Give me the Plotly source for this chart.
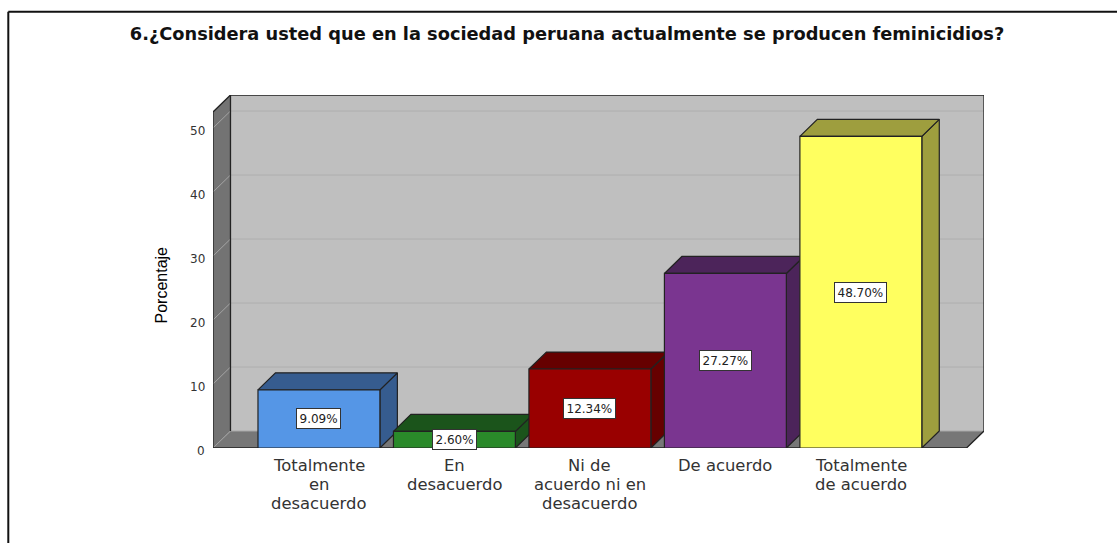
import plotly.graph_objects as go

W, H = 1117, 543
title = "6.¿Considera usted que en la sociedad peruana actualmente se producen feminicidios?"
y_title = "Porcentaje"
categories = [["Totalmente", "en", "desacuerdo"], ["En", "desacuerdo"],
              ["Ni de", "acuerdo ni en", "desacuerdo"], ["De acuerdo"], ["Totalmente", "de acuerdo"]]
values = [9.09, 2.60, 12.34, 27.27, 48.70]
labels = ["9.09%", "2.60%", "12.34%", "27.27%", "48.70%"]
y_ticks = [0, 10, 20, 30, 40, 50]
front = ["#5596E6", "#2A8A2A", "#990000", "#7A3590", "#FFFF5F"]
dark = ["#365C8F", "#1B541B", "#660000", "#4C245A", "#9E9E3E"]

BAR_W = 0.9
DX, DY = 0.129, 2.656
X0, X1 = -0.782, 4.78
Y_TOP = 52.5
LINE = "#222222"

fig = go.Figure()


def poly(xs, ys, fill, lw=1.2, lc=LINE):
    fig.add_trace(go.Scatter(x=xs + xs[:1], y=ys + ys[:1], mode="lines", fill="toself",
                             fillcolor=fill, line=dict(color=lc, width=lw),
                             hoverinfo="skip", showlegend=False, cliponaxis=False))


def path(xs, ys, color, lw=1.0):
    fig.add_trace(go.Scatter(x=xs, y=ys, mode="lines", line=dict(color=color, width=lw),
                             hoverinfo="skip", showlegend=False, cliponaxis=False))


# walls
poly([X0 + DX, X1 + DX, X1 + DX, X0 + DX], [DY, DY, Y_TOP + DY, Y_TOP + DY], "#BFBFBF", 0)
poly([X0, X0 + DX, X0 + DX, X0], [0, DY, Y_TOP + DY, Y_TOP], "#737373", 0)
poly([X0, X1, X1 + DX, X0 + DX], [0, 0, DY, DY], "#777777", 0)

# gridlines
for v in y_ticks[1:]:
    path([X0, X0 + DX], [v, v + DY], "#A4A4A4")
    path([X0 + DX, X1 + DX], [v + DY, v + DY], "#AEAEAE")

# wall edges
path([X0 + DX, X1 + DX], [DY, DY], "#A8A8A8")
path([X0, X0 + DX], [0, DY], "#A0A0A0")
path([X0, X0, X0 + DX, X1 + DX, X1 + DX, X1, X0],
     [0, Y_TOP, Y_TOP + DY, Y_TOP + DY, DY, 0, 0], LINE, 1.3)
path([X0 + DX, X0 + DX], [DY, Y_TOP + DY], LINE, 1.3)

# bars
for i, v in enumerate(values):
    l, r = i - BAR_W / 2, i + BAR_W / 2
    poly([r, r + DX, r + DX, r], [0, DY, v + DY, v], dark[i])
    poly([l, r, r + DX, l + DX], [v, v, v + DY, v + DY], dark[i])
    poly([l, r, r, l], [0, 0, v, v], front[i])

# bar value labels
for i, v in enumerate(values):
    fig.add_annotation(x=i, y=v / 2, text=labels[i], showarrow=False, bgcolor="white",
                       bordercolor="#333333", borderwidth=1, borderpad=2.5,
                       font=dict(family="DejaVu Sans", size=12, color="#222222"))

# y tick labels
for v in y_ticks:
    fig.add_annotation(x=X0, y=v, text=str(v), showarrow=False, xanchor="right", yanchor="middle",
                       xshift=-6, yshift=-3, font=dict(family="DejaVu Sans", size=12, color="#333333"))

# category labels
for i, lines in enumerate(categories):
    for k, t in enumerate(lines):
        fig.add_annotation(x=i, y=0, text=t, showarrow=False, yanchor="top", yshift=-6 - 19 * k,
                           font=dict(family="DejaVu Sans", size=16.4, color="#333333"))

fig.update_layout(
    template="none",
    width=W, height=H, margin=dict(l=0, r=0, t=0, b=0), autosize=False,
    paper_bgcolor="white", plot_bgcolor="white", showlegend=False,
    xaxis=dict(range=[X0, X1 + DX], domain=[213 / W, 984 / W], showgrid=False, zeroline=False, automargin=False,
               showline=False, showticklabels=False, ticks=""),
    yaxis=dict(range=[0, Y_TOP + DY], domain=[(H - 448) / H, (H - 95) / H], showgrid=False, zeroline=False,
               automargin=False, showline=False, tickvals=y_ticks, ticks="", showticklabels=False),
    title=dict(text="<b>" + title + "</b>", x=567 / W, xanchor="center", y=1 - 34 / H, yanchor="middle",
               font=dict(family="DejaVu Sans", size=17.8, color="#111111")),
    shapes=[dict(type="line", xref="paper", yref="paper", x0=8.3 / W, x1=1, y0=1 - 11.7 / H, y1=1 - 11.7 / H,
                 line=dict(color="#111111", width=2)),
            dict(type="line", xref="paper", yref="paper", x0=8.3 / W, x1=8.3 / W, y0=0, y1=1 - 11.7 / H,
                 line=dict(color="#111111", width=2))],
    annotations=list(fig.layout.annotations) + [
        dict(xref="paper", yref="paper", x=160.5 / W, y=1 - 285 / H, xanchor="center", yanchor="middle",
             text=y_title, textangle=-90, showarrow=False,
             font=dict(family="Liberation Sans", size=16, color="#000000"))],
)
fig.write_html("out.html", config={"displayModeBar": False},
               post_script="document.body.style.margin='0';document.body.style.overflow='hidden';")
